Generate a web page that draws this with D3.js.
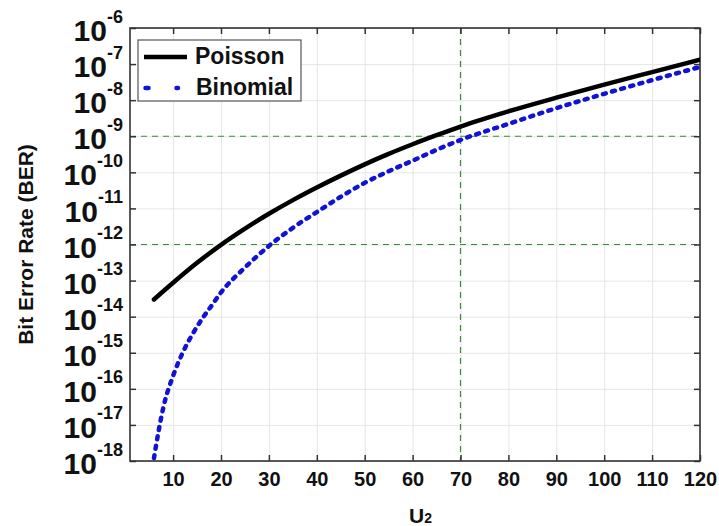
<!DOCTYPE html>
<html>
<head>
<meta charset="utf-8">
<script src="https://cdn.jsdelivr.net/npm/d3@7"></script>
<style>
  body { margin: 0; background: #fff; }
  text { font-family: "Liberation Sans", Arial, sans-serif; font-weight: bold; fill: #111; }
</style>
</head>
<body>
<script>
var width = 719, height = 526;
var plotLeft = 130, plotRight = 700, plotTop = 28, plotBottom = 461;

// values
var poissonU   = [6, 10, 15, 20, 25, 30, 35, 40, 45, 50, 55, 60, 65, 70, 80, 90, 100, 110, 120];
var poissonBER = [3.0e-14, 8.7e-14, 3.1e-13, 9.8e-13, 2.75e-12, 7.1e-12, 1.7e-11, 3.8e-11, 8.1e-11,
                  1.66e-10, 3.24e-10, 6.0e-10, 1.07e-9, 1.86e-9, 4.9e-9, 1.17e-8, 2.7e-8, 6.0e-8, 1.32e-7];

var binomialU   = [6, 7, 8, 10, 12, 14, 16, 18, 20, 25, 30, 35, 40, 45, 50, 55, 60, 65, 70, 80, 90, 100, 110, 120];
var binomialBER = [1.2e-18, 7.1e-18, 3.2e-17, 2.3e-16, 1.0e-15, 3.2e-15, 8.5e-15, 2.0e-14, 4.7e-14, 2.3e-13,
                   9.1e-13, 2.9e-12, 7.9e-12, 2.1e-11, 5.1e-11, 1.07e-10, 2.1e-10, 4.2e-10, 7.9e-10,
                   2.2e-9, 6.0e-9, 1.5e-8, 3.6e-8, 8.3e-8];

var xTicks = [10, 20, 30, 40, 50, 60, 70, 80, 90, 100, 110, 120];
var yExponents = [-18, -17, -16, -15, -14, -13, -12, -11, -10, -9, -8, -7, -6];
var refBER = [1e-9, 1e-12];   // horizontal green guides
var refU = [70];              // vertical green guide

var x = d3.scaleLinear().domain([1, 120]).range([plotLeft, plotRight]);
var y = d3.scaleLog().domain([1e-18, 1e-6]).range([plotBottom, plotTop]);
var yTicks = yExponents.map(function (e) { return Math.pow(10, e); });

var svg = d3.select("body").append("svg")
    .attr("width", width)
    .attr("height", height);

svg.append("defs").append("clipPath").attr("id", "plot")
    .append("rect").attr("x", plotLeft).attr("y", plotTop)
    .attr("width", plotRight - plotLeft).attr("height", plotBottom - plotTop);

// grid
var grid = svg.append("g").attr("class", "grid");
grid.append("g").attr("transform", "translate(0," + plotBottom + ")")
    .call(d3.axisBottom(x).tickValues(xTicks).tickSize(-(plotBottom - plotTop)).tickFormat(""));
grid.append("g").attr("transform", "translate(" + plotLeft + ",0)")
    .call(d3.axisLeft(y).tickValues(yTicks).tickSize(-(plotRight - plotLeft)).tickFormat(""));
grid.selectAll("line").attr("stroke", "#e6e6e6").attr("stroke-width", 1);
grid.selectAll(".domain").remove();

// green guides
var guides = svg.append("g")
    .attr("stroke", "#3a8a3a")
    .attr("stroke-width", 1.2)
    .attr("stroke-dasharray", "6,5");
guides.selectAll("line.h").data(refBER).enter().append("line")
    .attr("class", "h")
    .attr("x1", plotLeft).attr("x2", plotRight)
    .attr("y1", function (d) { return y(d); }).attr("y2", function (d) { return y(d); });
guides.selectAll("line.v").data(refU).enter().append("line")
    .attr("class", "v")
    .attr("y1", plotTop).attr("y2", plotBottom)
    .attr("x1", function (d) { return x(d); }).attr("x2", function (d) { return x(d); });

// ticks on all four sides, pointing inward
function tickStyle(g) {
    g.selectAll(".domain").remove();
    g.selectAll("line").attr("stroke", "#333").attr("stroke-width", 1.5);
}
var xAxis = svg.append("g").attr("transform", "translate(0," + plotBottom + ")")
    .call(d3.axisBottom(x).tickValues(xTicks).tickSize(-6).tickPadding(11));
xAxis.call(tickStyle);
xAxis.attr("font-size", 20).attr("font-family", null);
xAxis.selectAll("text").attr("fill", "#111");

svg.append("g").attr("transform", "translate(0," + plotTop + ")")
    .call(d3.axisTop(x).tickValues(xTicks).tickSize(-6).tickFormat(""))
    .call(tickStyle);
svg.append("g").attr("transform", "translate(" + plotRight + ",0)")
    .call(d3.axisRight(y).tickValues(yTicks).tickSize(-6).tickFormat(""))
    .call(tickStyle);
var yAxis = svg.append("g").attr("transform", "translate(" + plotLeft + ",0)")
    .call(d3.axisLeft(y).tickValues(yTicks).tickSize(-6).tickFormat(""))
    .call(tickStyle);
yAxis.attr("font-family", null);

// 10^n labels
yAxis.selectAll(".tick").append("text")
    .attr("x", -7)
    .attr("y", 12.6)
    .attr("text-anchor", "end")
    .attr("fill", "#111")
    .each(function (d) {
        var t = d3.select(this);
        t.append("tspan").attr("font-size", 30).text("10");
        t.append("tspan").attr("font-size", 18).attr("dy", -18.6)
            .text(Math.round(Math.log10(d)));
    });

// frame
svg.append("rect")
    .attr("x", plotLeft).attr("y", plotTop)
    .attr("width", plotRight - plotLeft).attr("height", plotBottom - plotTop)
    .attr("fill", "none").attr("stroke", "#333").attr("stroke-width", 1.6);

// curves
var line = d3.line()
    .x(function (d) { return x(d[0]); })
    .y(function (d) { return y(d[1]); })
    .curve(d3.curveMonotoneX);

var curves = svg.append("g").attr("clip-path", "url(#plot)");
curves.append("path")
    .datum(d3.zip(binomialU, binomialBER))
    .attr("d", line)
    .attr("fill", "none")
    .attr("stroke", "#1212d6")
    .attr("stroke-width", 4.5)
    .attr("stroke-linecap", "round")
    .attr("stroke-dasharray", "3,6.5");
curves.append("path")
    .datum(d3.zip(poissonU, poissonBER))
    .attr("d", line)
    .attr("fill", "none")
    .attr("stroke", "#000")
    .attr("stroke-width", 4.5)
    .attr("stroke-linecap", "round");

// legend
var legend = svg.append("g");
legend.append("rect")
    .attr("x", 138).attr("y", 40).attr("width", 163).attr("height", 61)
    .attr("fill", "#fff").attr("stroke", "#555").attr("stroke-width", 1.2);
legend.append("line")
    .attr("x1", 144).attr("x2", 187).attr("y1", 57).attr("y2", 57)
    .attr("stroke", "#000").attr("stroke-width", 4.5);
legend.append("line")
    .attr("x1", 145.5).attr("x2", 178).attr("y1", 88).attr("y2", 88)
    .attr("stroke", "#1212d6").attr("stroke-width", 4.5)
    .attr("stroke-linecap", "round").attr("stroke-dasharray", "3,28");
legend.append("text").attr("x", 195).attr("y", 63.5).attr("font-size", 23).text("Poisson");
legend.append("text").attr("x", 196).attr("y", 95).attr("font-size", 23).text("Binomial");

// axis titles
svg.append("text")
    .attr("transform", "translate(33," + ((plotTop + plotBottom) / 2) + ") rotate(-90)")
    .attr("text-anchor", "middle")
    .attr("font-size", 21)
    .text("Bit Error Rate (BER)");

var xt = svg.append("text").attr("x", 409).attr("y", 523);
xt.append("tspan").attr("font-size", 21).text("U");
xt.append("tspan").attr("font-size", 14).text("2");
</script>
</body>
</html>
